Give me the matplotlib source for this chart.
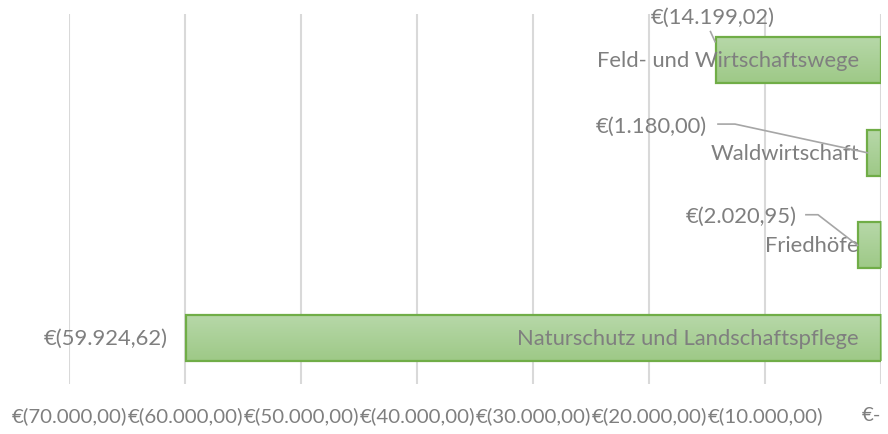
import numpy as np
import matplotlib.pyplot as plt
from matplotlib.colors import LinearSegmentedColormap

categories = ['Feld- und Wirtschaftswege', 'Waldwirtschaft', 'Friedhöfe',
              'Naturschutz und Landschaftspflege']
values = [-14199.02, -1180.00, -2020.95, -59924.62]
value_labels = ['€(14.199,02)', '€(1.180,00)', '€(2.020,95)', '€(59.924,62)']
ticks = [-70000, -60000, -50000, -40000, -30000, -20000, -10000, 0]
tick_labels = ['€(70.000,00)', '€(60.000,00)', '€(50.000,00)', '€(40.000,00)',
               '€(30.000,00)', '€(20.000,00)', '€(10.000,00)', '€-']

plt.rcParams['font.family'] = ['Lato', 'DejaVu Sans']
grey = '#7f7f7f'

fig = plt.figure(figsize=(8.88, 4.35), dpi=100)
ax = fig.add_axes([0.0777, 0.1149, 0.9144, 0.8506])

green = LinearSegmentedColormap.from_list('g', ['#b7d8a9', '#9ec987'])
grad = np.linspace(0, 1, 64).reshape(-1, 1)
h = 0.5
y = np.arange(len(categories))
for yi, v in zip(y, values):
    ax.imshow(grad, cmap=green, aspect='auto', origin='upper',
              extent=(v, 0, yi + h / 2, yi - h / 2), zorder=2)
    ax.add_patch(plt.Rectangle((v, yi - h / 2), -v, h, fill=False,
                               edgecolor='#70ad47', lw=1.6, zorder=3))

# category names, right aligned inside the bar end
for yi, name in zip(y, categories):
    ax.annotate(name, (0, yi), xytext=(-22, 0), textcoords='offset pixels',
                ha='right', va='center', color=grey, fontsize=15.8, zorder=4)

# value labels with leader lines
lab_pos = [(-14480, -0.47, 'center'), (-15000, 0.71, 'right'),
           (-7240, 1.68, 'right'), (-61470, 3.0, 'right')]
for yi, v, txt, (lx, ly, ha) in zip(y, values, value_labels, lab_pos):
    ax.text(lx, ly, txt, ha=ha, va='center', color=grey, fontsize=15.8, zorder=4)
lc = '#a6a6a6'
ax.plot([-14700, -14300], [-0.31, -0.2], color=lc, lw=1.2, zorder=4)
ax.plot([-14050, -12590, values[1]], [0.69, 0.69, 1.0], color=lc, lw=1.2, zorder=4)
ax.plot([-6470, -5430, values[2]], [1.67, 1.67, 2.0], color=lc, lw=1.2, zorder=4)

ax.set_xlim(-70000, 0)
ax.set_ylim(3.5, -0.5)
ax.set_xticks(ticks)
ax.set_xticklabels(tick_labels)
ax.get_xticklabels()[-1].set_ha('right')
ax.set_yticks([])
ax.tick_params(axis='x', length=0, pad=16, labelsize=14.7, labelcolor=grey)
ax.grid(axis='x', color='#d9d9d9', lw=1.5, zorder=0)
ax.set_axisbelow(True)
for s in ax.spines.values():
    s.set_visible(False)

fig.savefig('out.png', dpi=100)
